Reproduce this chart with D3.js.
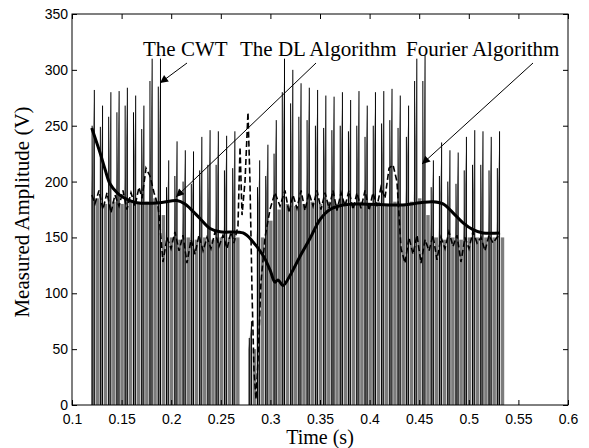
<!DOCTYPE html>
<html>
<head>
<meta charset="utf-8">
<script src="https://cdn.jsdelivr.net/npm/d3@7"></script>
<style>
  html, body { margin: 0; padding: 0; background: #fff; }
  svg { display: block; }
</style>
</head>
<body>
<svg id="chart" width="589" height="448"></svg>
<script>
// Axis ticks
const xTicks = [0.1, 0.15, 0.2, 0.25, 0.3, 0.35, 0.4, 0.45, 0.5, 0.55, 0.6];
const yTicks = [0, 50, 100, 150, 200, 250, 300, 350];

// The CWT: one spike per half cycle (time in s, height in V)
const cwtTime = [
  0.1225, 0.1308, 0.1392, 0.1475, 0.1558, 0.1642, 0.1725, 0.1808, 0.1892, 0.1975,
  0.2059, 0.2142, 0.2225, 0.2309, 0.2392, 0.2475, 0.2559, 0.2642, 0.2725, 0.2809,
  0.2892, 0.2975, 0.3059, 0.3142, 0.3226, 0.3309, 0.3392, 0.3476, 0.3559, 0.3642,
  0.3726, 0.3809, 0.3893, 0.3976, 0.4059, 0.4143, 0.4226, 0.4309, 0.4393, 0.4476,
  0.4559, 0.4643, 0.4726, 0.4810, 0.4893, 0.4976, 0.5060, 0.5143, 0.5226, 0.5310
];
const cwtPeak = [
  282, 268, 280, 281, 284, 277, 268, 310, 310, 219,
  236, 228, 227, 240, 246, 245, 241, 245, 0, 75,
  219, 233, 255, 310, 300, 288, 284, 282, 277, 276,
  280, 273, 281, 268, 280, 281, 283, 277, 268, 310,
  313, 219, 235, 228, 226, 240, 246, 245, 240, 245
];
// secondary spike just ahead of each main spike
const cwtSub = [
  250, 249, 258, 262, 268, 262, 247, 290, 285, 195,
  205, 200, 198, 210, 215, 215, 210, 212, 0, 60,
  195, 205, 225, 280, 270, 258, 255, 250, 248, 246,
  250, 245, 250, 240, 250, 252, 255, 248, 240, 290,
  290, 195, 205, 200, 198, 210, 215, 215, 210, 212
];
// level of the dense ripple that fills each half cycle
const cwtBand = [
  185, 180, 182, 180, 182, 180, 182, 185, 170, 150,
  148, 150, 148, 150, 148, 150, 150, 150, 0, 50,
  150, 165, 175, 180, 178, 180, 182, 180, 182, 180,
  182, 180, 182, 180, 182, 180, 182, 180, 182, 185,
  170, 150, 148, 150, 148, 150, 150, 150, 150, 150
];

// The DL algorithm estimate
const dlTime = [
  0.1201, 0.1231, 0.1272, 0.1312, 0.1353, 0.1393, 0.1433, 0.1474, 0.1514, 0.1554,
  0.1595, 0.1635, 0.1675, 0.1706, 0.1746, 0.1786, 0.1827, 0.1867, 0.1887, 0.1917,
  0.1958, 0.1998, 0.2038, 0.2079, 0.2119, 0.2159, 0.2200, 0.2240, 0.2280, 0.2321,
  0.2361, 0.2401, 0.2442, 0.2482, 0.2522, 0.2563, 0.2603, 0.2633, 0.2673, 0.2694,
  0.2714, 0.2744, 0.2774, 0.2794, 0.2815, 0.2835, 0.2855, 0.2875, 0.2905, 0.2946,
  0.2996, 0.3046, 0.3097, 0.3147, 0.3188, 0.3228, 0.3268, 0.3309, 0.3349, 0.3389,
  0.3430, 0.3470, 0.3510, 0.3551, 0.3591, 0.3631, 0.3671, 0.3712, 0.3752, 0.3792,
  0.3833, 0.3873, 0.3913, 0.3954, 0.3994, 0.4034, 0.4075, 0.4115, 0.4155, 0.4196,
  0.4236, 0.4276, 0.4317, 0.4357, 0.4397, 0.4438, 0.4478, 0.4518, 0.4559, 0.4599,
  0.4639, 0.4679, 0.4720, 0.4760, 0.4800, 0.4841, 0.4881, 0.4921, 0.4962, 0.5002,
  0.5042, 0.5083, 0.5123, 0.5163, 0.5204, 0.5244, 0.5284, 0.5315
];
const dlValue = [
  188, 180, 192, 175, 190, 172, 188, 178, 192, 175,
  190, 178, 195, 185, 212, 205, 190, 178, 160, 128,
  150, 140, 155, 138, 152, 127, 148, 135, 152, 138,
  150, 140, 155, 142, 152, 140, 155, 145, 160, 231,
  170, 200, 262, 200, 100, 30, 5, 40, 110, 150,
  175, 190, 178, 192, 172, 188, 176, 192, 174, 190,
  178, 192, 175, 190, 176, 192, 174, 190, 178, 192,
  175, 190, 176, 192, 174, 190, 178, 195, 185, 212,
  215, 200, 140, 127, 150, 135, 152, 127, 148, 138,
  152, 130, 150, 140, 155, 142, 152, 128, 150, 140,
  155, 145, 150, 138, 152, 145, 150, 152
];

// Fourier algorithm estimate
const fourierTime = [
  0.1199, 0.1282, 0.1333, 0.1383, 0.1454, 0.1514, 0.1585, 0.1655, 0.1887, 0.2058,
  0.2139, 0.2190, 0.2290, 0.2391, 0.2492, 0.2724, 0.2825, 0.2925, 0.2996, 0.3046,
  0.3077, 0.3127, 0.3198, 0.3298, 0.3399, 0.3500, 0.3601, 0.3732, 0.3903, 0.4306,
  0.4508, 0.4639, 0.4740, 0.4841, 0.4942, 0.5042, 0.5143, 0.5315
];
const fourierValue = [
  248, 226, 211, 198, 190, 186, 183, 181, 181, 183,
  180, 176, 167, 158, 155, 154, 146, 134, 121, 110,
  112, 107, 116, 133, 149, 166, 175, 179, 180, 179,
  181, 182, 180, 172, 163, 157, 154, 154
];

const labelNames = ["The CWT", "The DL Algorithm", "Fourier Algorithm"];

// ---- layout ----
const svg = d3.select("#chart");
const mLeft = 72, mRight = 568, mTop = 14, mBottom = 405;
const x = d3.scaleLinear().domain([0.1, 0.6]).range([mLeft, mRight]);
const y = d3.scaleLinear().domain([0, 350]).range([mBottom, mTop]);

const defs = svg.append("defs");
defs.append("clipPath").attr("id", "plotclip")
  .append("rect").attr("x", mLeft).attr("y", mTop)
  .attr("width", mRight - mLeft).attr("height", mBottom - mTop);
const plot = svg.append("g").attr("clip-path", "url(#plotclip)");

// CWT: dense ripple drawn as grey fill, spikes as thin black strokes
const halfPx = x(cwtTime[1]) - x(cwtTime[0]);
const cwtG = plot.append("g");
cwtTime.forEach((t, i) => {
  if (cwtPeak[i] <= 0) return;
  const tx = x(t);
  const y0 = y(0);
  cwtG.append("path")
    .attr("d", `M${tx - 3},${y0} L${tx - 3},${y(cwtBand[i])} L${tx},${y(cwtPeak[i])} L${tx},${y0} Z`)
    .attr("fill", "#7c7c7c");
  cwtG.append("rect")
    .attr("x", tx + 1.2).attr("y", y(cwtBand[i]))
    .attr("width", halfPx * 0.42).attr("height", y0 - y(cwtBand[i]))
    .attr("fill", "#7c7c7c");
  cwtG.append("path")
    .attr("d", `M${tx - 2.2},${y0} L${tx - 2.2},${y(cwtSub[i])} M${tx},${y0} L${tx},${y(cwtPeak[i])}`)
    .attr("stroke", "#000").attr("stroke-width", 1).attr("fill", "none");
});

// DL algorithm (dashed)
plot.append("path")
  .datum(d3.zip(dlTime, dlValue))
  .attr("d", d3.line().x(d => x(d[0])).y(d => y(d[1])))
  .attr("fill", "none").attr("stroke", "#000").attr("stroke-width", 1.6)
  .attr("stroke-dasharray", "6,3");

// Fourier algorithm (thick solid)
plot.append("path")
  .datum(d3.zip(fourierTime, fourierValue))
  .attr("d", d3.line().curve(d3.curveCatmullRom).x(d => x(d[0])).y(d => y(d[1])))
  .attr("fill", "none").attr("stroke", "#000").attr("stroke-width", 3)
  .attr("stroke-linejoin", "round");

// ---- axes ----
const fmt = d => String(d);
const axB = svg.append("g").attr("transform", `translate(0,${mBottom})`)
  .call(d3.axisBottom(x).tickValues(xTicks).tickSizeInner(-5).tickSizeOuter(0).tickPadding(9).tickFormat(fmt));
const axT = svg.append("g").attr("transform", `translate(0,${mTop})`)
  .call(d3.axisTop(x).tickValues(xTicks).tickSizeInner(-5).tickSizeOuter(0).tickFormat(""));
const axL = svg.append("g").attr("transform", `translate(${mLeft},0)`)
  .call(d3.axisLeft(y).tickValues(yTicks).tickSizeInner(-5).tickSizeOuter(0).tickPadding(4).tickFormat(fmt));
const axR = svg.append("g").attr("transform", `translate(${mRight},0)`)
  .call(d3.axisRight(y).tickValues(yTicks).tickSizeInner(-5).tickSizeOuter(0).tickFormat(""));
[axB, axT, axL, axR].forEach(g => {
  g.select(".domain").remove();
  g.selectAll(".tick line").attr("stroke", "#000");
  g.selectAll("text").attr("font-family", "'Liberation Sans', Arial, sans-serif")
    .attr("font-size", 14).attr("fill", "#000");
});

svg.append("rect").attr("x", mLeft).attr("y", mTop)
  .attr("width", mRight - mLeft).attr("height", mBottom - mTop)
  .attr("fill", "none").attr("stroke", "#000").attr("stroke-width", 1);

// ---- titles ----
svg.append("text").attr("x", (mLeft + mRight) / 2).attr("y", 444)
  .attr("text-anchor", "middle")
  .attr("font-family", "'Liberation Serif', 'Times New Roman', serif").attr("font-size", 20)
  .text("Time (s)");
svg.append("text").attr("transform", `translate(29,212) rotate(-90)`)
  .attr("text-anchor", "middle")
  .attr("font-family", "'Liberation Serif', 'Times New Roman', serif").attr("font-size", 21)
  .text("Measured Amplitude (V)");

// ---- annotations ----
defs.append("marker").attr("id", "head").attr("viewBox", "0 0 10 10")
  .attr("refX", 10).attr("refY", 5).attr("markerWidth", 10).attr("markerHeight", 8)
  .attr("markerUnits", "userSpaceOnUse").attr("orient", "auto")
  .append("path").attr("d", "M0,0 L10,5 L0,10 Z").attr("fill", "#000");

const notes = [
  { text: labelNames[0], tx: 143, ty: 56, from: [187, 63], to: [160, 83] },
  { text: labelNames[1], tx: 240, ty: 56, from: [316, 63], to: [176, 197] },
  { text: labelNames[2], tx: 406, ty: 56, from: [533, 63], to: [422, 164] }
];
notes.forEach(n => {
  svg.append("text").attr("x", n.tx).attr("y", n.ty)
    .attr("font-family", "'Liberation Serif', 'Times New Roman', serif").attr("font-size", 21)
    .text(n.text);
  svg.append("line").attr("x1", n.from[0]).attr("y1", n.from[1])
    .attr("x2", n.to[0]).attr("y2", n.to[1])
    .attr("stroke", "#000").attr("stroke-width", 1).attr("marker-end", "url(#head)");
});
</script>
</body>
</html>
